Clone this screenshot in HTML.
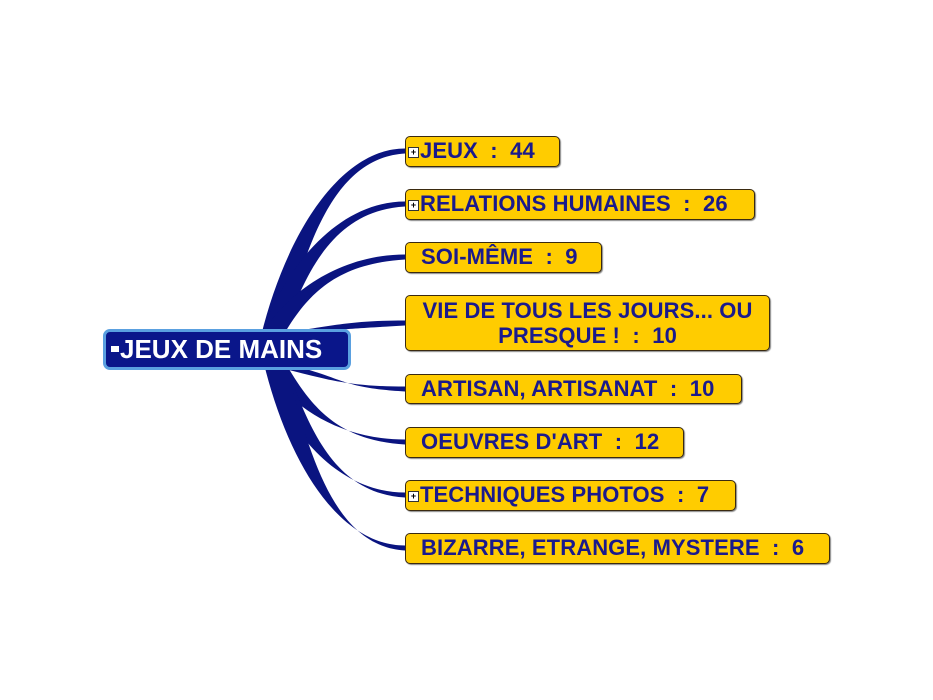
<!DOCTYPE html>
<html><head><meta charset="utf-8"><style>
body{margin:0;background:#fff;width:933px;height:700px;overflow:hidden;position:relative;font-family:"Liberation Sans",Arial,sans-serif;}
.b{position:absolute;left:405px;background:#ffcc00;border:1.5px solid #3a2a10;border-radius:5px;box-sizing:border-box;color:#1a1a8c;font-weight:bold;font-size:22px;line-height:28px;white-space:nowrap;box-shadow:1px 1px 1px #888;letter-spacing:0.1px}
.p{display:inline-block;width:9px;height:9px;border:1px solid #333;background:#fff;font-size:9px;line-height:9px;text-align:center;color:#000;vertical-align:3px;margin:0 1px 0 2px;letter-spacing:0}
#root{position:absolute;left:103px;top:329px;width:248px;height:41px;background:#0a168a;border:3px solid #5aa0e0;border-radius:7px;box-sizing:border-box;color:#fff;font-weight:bold;font-size:26px;line-height:35px;white-space:nowrap;letter-spacing:0}
svg{position:absolute;left:0;top:0}
</style></head><body>
<svg width="933" height="700" id="s"></svg>
<div id="root"><span style="display:inline-block;width:8px;height:6px;background:#fff;margin:0 1px 0 5px;vertical-align:6px"></span>JEUX DE MAINS</div>
<div class="b" style="top:136px;width:155px;height:31px"><span class="p">+</span>JEUX &nbsp;: &nbsp;44</div>
<div class="b" style="top:189px;width:350px;height:31px"><span class="p">+</span>RELATIONS HUMAINES &nbsp;: &nbsp;26</div>
<div class="b" style="top:242px;width:197px;height:31px;padding-left:15px">SOI-MÊME &nbsp;: &nbsp;9</div>
<div class="b" style="top:295px;width:365px;height:56px;text-align:center;line-height:25px;padding-top:2px">VIE DE TOUS LES JOURS... OU<br>PRESQUE ! &nbsp;: &nbsp;10</div>
<div class="b" style="top:374px;width:337px;height:30px;padding-left:15px">ARTISAN, ARTISANAT &nbsp;: &nbsp;10</div>
<div class="b" style="top:427px;width:279px;height:31px;padding-left:15px">OEUVRES D'ART &nbsp;: &nbsp;12</div>
<div class="b" style="top:480px;width:331px;height:31px"><span class="p">+</span>TECHNIQUES PHOTOS &nbsp;: &nbsp;7</div>
<div class="b" style="top:533px;width:425px;height:31px;padding-left:15px">BIZARRE, ETRANGE, MYSTERE &nbsp;: &nbsp;6</div>
<script>
var s=document.getElementById('s'),ys=[151,204,257,323,389,442,495,548],out='';
ys.forEach(function(y1){
 var up=y1<350,x0=up?272:275,y0=up?336:364;
 var c1x=x0+(Math.abs(y1-350)<40?60:25), c1y=y0+(y1-y0)*0.55, c2x=340;
 var w=11,e=2.5;
 out+='<path fill="#0a1480" d="M'+(x0-w)+','+y0+' C'+(c1x-w)+','+c1y+' '+c2x+','+(y1-e)+' 405,'+(y1-e)+' L405,'+(y1+e)+' C'+(c2x-2)+','+(y1+e+(up?4:-4))+' '+(c1x+w)+','+c1y+' '+(x0+w)+','+y0+'Z"/>';
});
s.innerHTML=out;
</script>
</body></html>
